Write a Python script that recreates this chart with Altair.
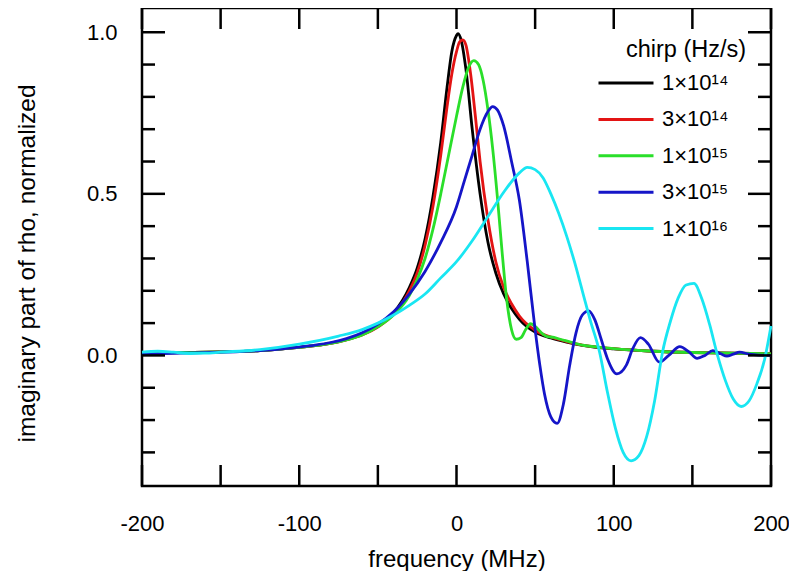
import altair as alt
import pandas as pd

FONT = "Liberation Sans"

series = ["1×10¹⁴", "3×10¹⁴", "1×10¹⁵", "3×10¹⁵", "1×10¹⁶"]
colors = ["#000000", "#e31414", "#2adf2a", "#1515c8", "#19e6f2"]

f_black = [-200, -175, -150, -125, -100, -90, -80, -70, -60, -50, -40, -30, -25, -20, -15, -10, -6, -3, 0, 1, 3, 6, 10, 15, 20, 25, 30, 35, 40, 50, 60, 70, 80, 100, 125, 150, 175, 200]
v_black = [0.007, 0.009, 0.011, 0.015, 0.025, 0.03, 0.038, 0.049, 0.065, 0.09, 0.132, 0.21, 0.27, 0.36, 0.49, 0.66, 0.83, 0.94, 0.99, 0.996, 0.975, 0.885, 0.7, 0.5, 0.35, 0.255, 0.19, 0.145, 0.112, 0.072, 0.054, 0.041, 0.031, 0.02, 0.013, 0.009, 0.007, 0.005]

f_red = [-200, -175, -150, -125, -100, -90, -80, -70, -60, -50, -40, -30, -25, -20, -15, -10, -6, -3, 0, 2, 4, 6, 9, 12, 15, 20, 25, 30, 35, 40, 50, 60, 70, 80, 100, 125, 150, 175, 200]
v_red = [0.007, 0.009, 0.011, 0.015, 0.025, 0.03, 0.037, 0.048, 0.063, 0.088, 0.127, 0.2, 0.255, 0.34, 0.46, 0.62, 0.77, 0.87, 0.94, 0.97, 0.976, 0.96, 0.87, 0.74, 0.6, 0.42, 0.29, 0.21, 0.16, 0.122, 0.078, 0.057, 0.043, 0.032, 0.021, 0.013, 0.009, 0.007, 0.005]

f_green = [-200, -175, -150, -125, -100, -90, -80, -70, -60, -50, -40, -30, -25, -20, -15, -10, -5, 0, 4, 8, 11, 14, 17, 20, 23, 26, 29, 32, 35, 38, 41, 44, 47, 50, 54, 58, 62, 66, 70, 80, 90, 100, 125, 150, 175, 200]
v_green = [0.007, 0.009, 0.011, 0.015, 0.025, 0.03, 0.037, 0.048, 0.063, 0.089, 0.125, 0.185, 0.235, 0.3, 0.39, 0.5, 0.62, 0.74, 0.83, 0.895, 0.912, 0.9, 0.85, 0.76, 0.64, 0.49, 0.32, 0.17, 0.08, 0.05, 0.055, 0.08, 0.098, 0.09, 0.07, 0.058, 0.056, 0.05, 0.045, 0.032, 0.026, 0.021, 0.013, 0.009, 0.007, 0.005]

f_blue = [-200, -175, -150, -125, -100, -90, -80, -70, -60, -50, -40, -30, -20, -10, 0, 5, 10, 15, 20, 23, 26, 30, 35, 40, 45, 50, 53, 56, 60, 64, 68, 72, 76, 80, 84, 88, 92, 96, 102, 108, 112, 117, 122, 129, 135, 142, 148, 153, 158, 163, 168, 172, 176, 180, 186, 192, 200]
v_blue = [0.004, 0.007, 0.01, 0.015, 0.026, 0.032, 0.04, 0.052, 0.07, 0.097, 0.135, 0.19, 0.26, 0.35, 0.46, 0.54, 0.62, 0.7, 0.755, 0.77, 0.76, 0.71, 0.6, 0.48, 0.29, 0.08, -0.03, -0.12, -0.19, -0.21, -0.15, -0.03, 0.07, 0.125, 0.138, 0.11, 0.05, -0.01, -0.057, -0.03, 0.02, 0.055, 0.035, -0.021, 0.0, 0.027, 0.01, -0.009, 0.0, 0.015, 0.005, -0.002, 0.004, 0.01, 0.004, 0.001, 0.0]

f_cyan = [-200, -190, -180, -170, -160, -150, -125, -100, -75, -60, -50, -40, -30, -20, -10, 0, 10, 20, 30, 40, 45, 50, 55, 60, 65, 70, 75, 80, 85, 91, 96, 101, 106, 111, 116, 121, 126, 131, 136, 141, 146, 151, 156, 161, 166, 171, 176, 181, 186, 191, 196, 200]
v_cyan = [0.01, 0.013, 0.01, 0.006, 0.007, 0.01, 0.018, 0.035, 0.06, 0.08, 0.1, 0.125, 0.155, 0.19, 0.24, 0.29, 0.355, 0.43, 0.505, 0.565, 0.582, 0.575, 0.55, 0.5, 0.44, 0.37, 0.29, 0.2, 0.11, 0.01, -0.114, -0.224, -0.3, -0.326, -0.31, -0.25, -0.14, 0.01, 0.105, 0.178, 0.218, 0.223, 0.175, 0.095, 0.0, -0.078, -0.135, -0.158, -0.141, -0.088, -0.011, 0.091]

x_tick_values = [-200, -150, -100, -50, 0, 50, 100, 150, 200]
x_label_values = [-200, -100, 0, 100, 200]
y_major = [0.0, 0.5, 1.0]
y_minor = [-0.3, -0.2, -0.1, 0.1, 0.2, 0.3, 0.4, 0.6, 0.7, 0.8, 0.9]

W, H = 629, 478
MAJ, MIN, XT = 23, 13, 21

rows = []
for name, fs, vs in zip(series,
                        [f_black, f_red, f_green, f_blue, f_cyan],
                        [v_black, v_red, v_green, v_blue, v_cyan]):
    for f, v in zip(fs, vs):
        rows.append({"freq": f, "val": v, "chirp": name})
df = pd.DataFrame(rows)

xscale = alt.Scale(domain=[-200, 200], nice=False, zero=False)
yscale = alt.Scale(domain=[-0.404, 1.075], nice=False, zero=False)

color = alt.Color(
    "chirp:N",
    scale=alt.Scale(domain=series, range=colors),
    legend=alt.Legend(
        orient="none", legendX=484, legendY=30,
        title="chirp (Hz/s)", titleFontSize=23.5, titleFont=FONT,
        titleFontWeight="normal", titleColor="black", titleAnchor="start",
        titlePadding=10.5,
        labelFontSize=22, labelFont=FONT, labelColor="black",
        symbolType="M-7,0H3", symbolSize=121, symbolStrokeWidth=3,
        labelOffset=14, rowPadding=14.4, padding=0,
    ),
)

x_axis = alt.Axis(values=x_label_values, ticks=False, domain=False, grid=False,
                  labelFontSize=22, labelFont=FONT, labelColor="black",
                  labelPadding=27, labelFlush=False, labelOverlap=False,
                  labelExpr="datum.value < 0 ? '-' + abs(datum.value) : '' + datum.value",
                  title="frequency (MHz)", titleFontSize=24, titleFont=FONT,
                  titleFontWeight="normal", titleColor="black",
                  titleBaseline="alphabetic", titleY=80)
y_axis = alt.Axis(values=y_major, format=".1f", ticks=False, domain=False, grid=False,
                  labelFontSize=22, labelFont=FONT, labelColor="black",
                  labelPadding=25, labelFlush=False, labelOverlap=False,
                  title="imaginary part of rho, normalized", titleFontSize=24.5,
                  titleFont=FONT, titleFontWeight="normal", titleColor="black",
                  titleBaseline="alphabetic", titleX=-108, titleY=255,
                  titleAngle=270)

x_enc = alt.X("freq:Q", scale=xscale, axis=x_axis)
y_enc = alt.Y("val:Q", scale=yscale, axis=y_axis)

lines = []
for name in series:
    lines.append(
        alt.Chart(df).transform_filter(alt.datum.chirp == name)
        .mark_line(strokeWidth=2.8, interpolate="monotone")
        .encode(x=x_enc, y=y_enc, color=color)
    )

xt = pd.DataFrame({"freq": x_tick_values})
ymj = pd.DataFrame({"val": y_major})
ymn = pd.DataFrame({"val": y_minor})
tick_style = dict(color="black", strokeWidth=2.5)

xb = alt.Chart(xt).mark_rule(**tick_style).encode(
    x=x_enc, y=alt.value(H), y2=alt.value(H - XT))
xtop = alt.Chart(xt).mark_rule(**tick_style).encode(
    x=x_enc, y=alt.value(0), y2=alt.value(XT))
yl_maj = alt.Chart(ymj).mark_rule(**tick_style).encode(
    y=y_enc, x=alt.value(0), x2=alt.value(MAJ))
yr_maj = alt.Chart(ymj).mark_rule(**tick_style).encode(
    y=y_enc, x=alt.value(W), x2=alt.value(W - MAJ))
yl_min = alt.Chart(ymn).mark_rule(**tick_style).encode(
    y=y_enc, x=alt.value(0), x2=alt.value(MIN))
yr_min = alt.Chart(ymn).mark_rule(**tick_style).encode(
    y=y_enc, x=alt.value(W), x2=alt.value(W - MIN))

chart = alt.layer(*lines, xb, xtop, yl_maj, yr_maj, yl_min, yr_min).properties(
    width=W, height=H,
    autosize=alt.AutoSizeParams(type="none"),
    padding={"left": 134, "top": 0, "right": 18, "bottom": 85},
).configure(font=FONT).configure_view(stroke="black", strokeWidth=2.5)

chart.save("out.html", embed_options={"renderer": "svg", "actions": False})
